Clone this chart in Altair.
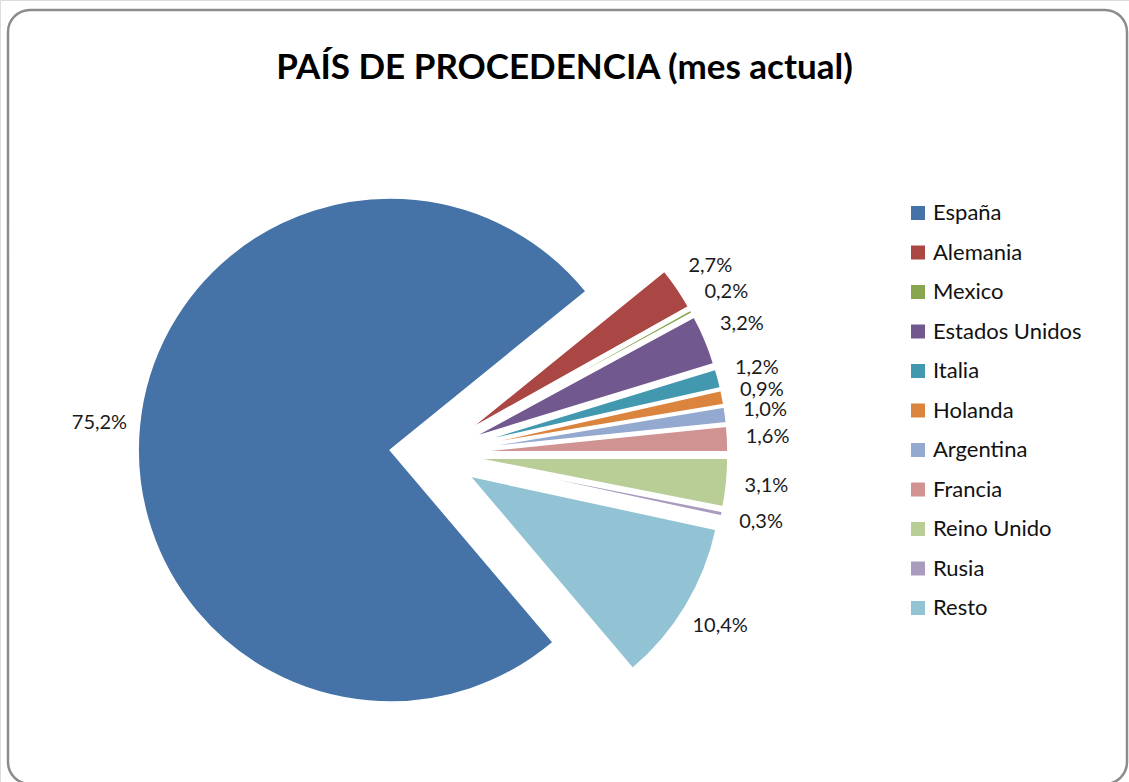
import altair as alt
import pandas as pd

# Data
paises = ["España", "Alemania", "Mexico", "Estados Unidos", "Italia", "Holanda",
          "Argentina", "Francia", "Reino Unido", "Rusia", "Resto"]
porcentajes = [75.2, 2.7, 0.2, 3.2, 1.2, 0.9, 1.0, 1.6, 3.1, 0.3, 10.4]
colores = ["#4572A7", "#AA4643", "#89A54E", "#71588F", "#4198AF", "#DB843D",
           "#93A9CF", "#D19392", "#B9CD96", "#A99BBD", "#92C3D4"]

df = pd.DataFrame({"pais": paises, "valor": porcentajes, "orden": list(range(len(paises)))})

# Layout constants (pixels / radians)
CX, CY = 433, 454        # true pie centre
EXPLODE = 43             # explosion distance of every slice
RADIUS = 252
LABEL_R = 292
START = 2.4389           # angle where the first slice (España) starts

base = alt.Chart(df).transform_window(
    cum="sum(valor)", sort=[alt.SortField("orden")], frame=[None, 0]
).transform_joinaggregate(
    total="sum(valor)"
).transform_calculate(
    a1=f"{START} + 2*PI*datum.cum/datum.total",
).transform_calculate(
    a0=f"datum.a1 - 2*PI*datum.valor/datum.total",
).transform_calculate(
    mid="(datum.a0 + datum.a1)/2",
).transform_calculate(
    cx=f"{CX} + {EXPLODE}*sin(datum.mid)",
    cy=f"{CY} - {EXPLODE}*cos(datum.mid)",
).transform_calculate(
    lx=f"datum.cx + {LABEL_R}*sin(datum.mid)",
    ly=f"datum.cy - {LABEL_R}*cos(datum.mid)",
    etiqueta="replace(format(datum.valor, '.1f'), '.', ',') + '%'",
)

arcs = base.mark_arc(radius=RADIUS, stroke="white", strokeWidth=1.5).encode(
    x=alt.X("cx:Q", scale=None, axis=None),
    y=alt.Y("cy:Q", scale=None, axis=None),
    theta=alt.Theta("a0:Q", scale=None, stack=None),
    theta2="a1:Q",
    color=alt.Color(
        "pais:N",
        scale=alt.Scale(domain=paises, range=colores),
        sort=paises,
        legend=alt.Legend(
            title=None, orient="none", legendX=907, legendY=202,
            symbolType="square", symbolSize=196, symbolStrokeWidth=0,
            labelFont="Lato", labelFontSize=22, labelColor="#111111",
            labelOffset=4, rowPadding=17.5, padding=0, labelLimit=300,
        ),
    ),
    order=alt.Order("orden:Q"),
)

labels = base.mark_text(font="Lato", fontSize=20, color="#1a1a1a",
                        align="center", baseline="middle").encode(
    x=alt.X("lx:Q", scale=None, axis=None),
    y=alt.Y("ly:Q", scale=None, axis=None),
    text="etiqueta:N",
)

frame = alt.Chart(df).mark_rect(
    fill=None, stroke="#8c8c8c", strokeWidth=2.5, cornerRadius=22
).encode(
    x=alt.value(8), x2=alt.value(1127), y=alt.value(10), y2=alt.value(784)
).transform_filter("datum.orden == 0")

chart = alt.layer(frame, arcs, labels).properties(
    width=1129, height=782,
    autosize=alt.AutoSizeParams(type="none"),
    padding=0,
    title=alt.TitleParams(
        "PAÍS DE PROCEDENCIA (mes actual)", font="Lato", fontSize=35,
        fontWeight="bold", color="#000000", anchor="middle", dy=90,
    ),
).configure_view(stroke=None).configure(background="white")

chart.save("out.html", embed_options={"renderer": "svg", "actions": False})
